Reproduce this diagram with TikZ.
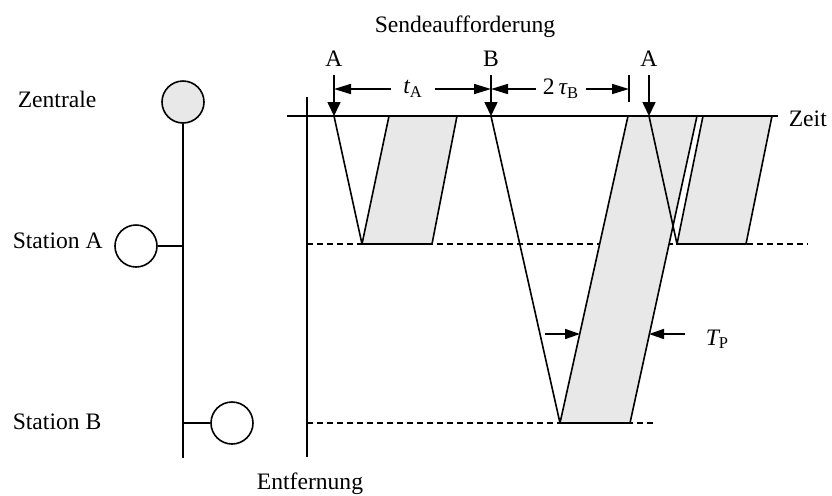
\documentclass[tikz,border=0pt]{standalone}
\usepackage{fontspec}
\setmainfont{Liberation Serif}
\usetikzlibrary{arrows.meta}
\definecolor{pktgray}{HTML}{E8E8E8}
\begin{document}
\begin{tikzpicture}[x=0.5pt,y=-0.5pt,line width=0.8pt,
  lbl/.style={font=\fontsize{11.8}{14}\selectfont,inner sep=0pt},
  station/.style={circle,draw=black,line width=0.8pt,minimum size=21pt,inner sep=0pt},
  packet/.style={fill=pktgray,draw=black,line join=miter},
  sigline/.style={draw=black},
  dashline/.style={draw=black,dash pattern=on 3pt off 2pt},
  reqarrow/.style={-{Triangle[length=7pt,width=6.5pt]}},
  dimarrow/.style={-{Triangle[length=8.5pt,width=5pt]}},
  tparrow/.style={-{Triangle[length=7.5pt,width=5pt]}}]
\useasboundingbox (0,0) rectangle (832,495);

% texts
\node[lbl,anchor=base] (send) at (465,32) {Sendeaufforderung};
\node[lbl,anchor=base west] (zen) at (17,107) {Zentrale};
\node[lbl,anchor=base west] (sta) at (12,248) {Station A};
\node[lbl,anchor=base west] (stb) at (12,429) {Station B};
\node[lbl,anchor=base] (entf) at (310,489) {Entfernung};
\node[lbl,anchor=base west] (zeit) at (788,126) {Zeit};

% network
\node[station,fill=pktgray] (cz) at (183,102) {};
\node[station,fill=white] (ca) at (136,246) {};
\node[station,fill=white] (cb) at (232,423) {};
\coordinate (busend) at (183,458);
\coordinate (busa) at (183,246);
\coordinate (busb) at (183,423);
\draw (cz.south) -- (busend);
\draw (ca.east) -- (busa);
\draw (busb) -- (cb.west);

% axes
\coordinate (t0) at (287,116);
\coordinate (t1) at (778,116);
\coordinate (d0) at (307,97);
\coordinate (d1) at (307,457);
\draw (t0) -- (t1);
\draw (d0) -- (d1);

% station levels
\coordinate (la0) at (307,244);
\coordinate (la1) at (808,244);
\coordinate (lb0) at (307,423);
\coordinate (lb1) at (656,423);
\draw[dashline] (la0) -- (la1);
\draw[dashline] (lb0) -- (lb1);

% packets
\draw[packet] (362,244) -- (432,244) -- (457,116) -- (389,116) -- cycle;
\draw[packet] (560,423) -- (630,423) -- (697,116) -- (628,116) -- cycle;
\draw[packet] (677,244) -- (746,244) -- (772,116) -- (703,116) -- cycle;

% polling signals
\coordinate (pa) at (334,116);
\coordinate (pb) at (491,116);
\coordinate (pa2) at (649,116);
\coordinate (ra) at (362,244);
\coordinate (rb) at (560,423);
\coordinate (ra2) at (677,244);
\draw[sigline] (pa) -- (ra);
\draw[sigline] (pb) -- (rb);
\draw[sigline] (pa2) -- (ra2);

% request arrows
\node[lbl,anchor=base] (lA) at (334,66) {A};
\node[lbl,anchor=base] (lB) at (491,66) {B};
\node[lbl,anchor=base] (lA2) at (649,66) {A};
\coordinate (qa) at (334,75);
\coordinate (qb) at (491,75);
\coordinate (qa2) at (649,75);
\draw[reqarrow] (qa) -- (pa);
\draw[reqarrow] (qb) -- (pb);
\draw[reqarrow] (qa2) -- (pa2);
\coordinate (tk0) at (629,75);
\coordinate (tk1) at (629,102);
\draw (tk0) -- (tk1);

% dimensions
\coordinate (da) at (334,89);
\coordinate (db) at (491,89);
\coordinate (dt) at (629,89);
\node[lbl,inner xsep=5.5pt] (tA) at (413,89) {\itshape t\textsubscript{\upshape A}};
\node[lbl,inner xsep=3pt] (tB) at (561,89) {2\,\itshape τ\textsubscript{\upshape B}};
\draw[dimarrow] (tA.west) -- (da);
\draw[dimarrow] (tA.east) -- (db);
\draw[dimarrow] (tB.west) -- (db);
\draw[dimarrow] (tB.east) -- (dt);

% packet duration
\coordinate (tp0) at (545,334);
\coordinate (tp1) at (580,334);
\coordinate (tp2) at (685,334);
\coordinate (tp3) at (649,334);
\draw[tparrow] (tp0) -- (tp1);
\draw[tparrow] (tp2) -- (tp3);
\node[lbl,anchor=base west] (TP) at (705,345) {\itshape T\textsubscript{\upshape P}};
\end{tikzpicture}
\end{document}
